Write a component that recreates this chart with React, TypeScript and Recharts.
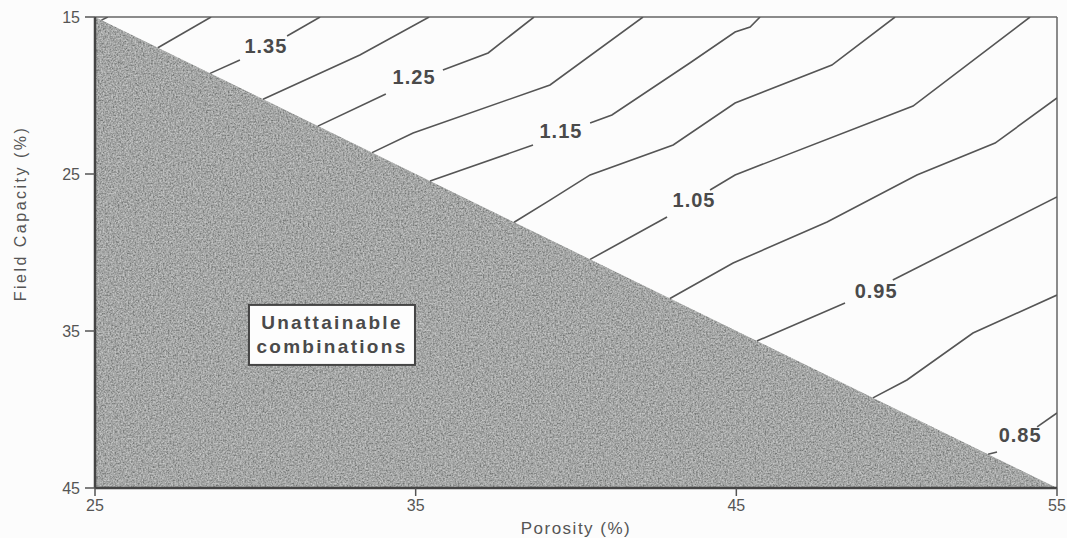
import {
  ComposedChart,
  Area,
  Line,
  Scatter,
  XAxis,
  YAxis,
  ReferenceLine,
  Label,
} from "recharts";

// axis ticks
const porosityTicks = [25, 35, 45, 55];
const fieldCapacityTicks = [15, 25, 35, 45];

// triangle of impossible porosity / field capacity pairs
const unattainable = [
  { x: 25, y: 15 },
  { x: 55, y: 45 },
];

// contour lines, [porosity, field capacity]; labelled ones are split around their label
type Pt = [number, number];
const c145: Pt[] = [[25.2, 15.2], [25.4, 15]];
const c140: Pt[] = [[26.96, 16.96], [28.62, 15]];
const c135Low: Pt[] = [[28.59, 18.59], [29.52, 17.74]];
const c135High: Pt[] = [[30.99, 16.21], [32.02, 15]];
const c130: Pt[] = [[30.24, 20.24], [33.26, 17.42], [35.42, 15]];
const c125Low: Pt[] = [[31.95, 21.95], [34.07, 19.9]];
const c125High: Pt[] = [[35.85, 18.38], [37.26, 17.29], [38.69, 15]];
const c120: Pt[] = [[33.64, 23.64], [34.92, 22.39], [39.19, 19.33], [42.09, 15]];
const c115Low: Pt[] = [[35.45, 25.45], [38.66, 23.15]];
const c115High: Pt[] = [[40.44, 21.75], [41.12, 21.24], [43.55, 17.93], [44.96, 15.96], [45.43, 15.64], [45.74, 15]];
const c110: Pt[] = [[38.07, 28.07], [39.19, 26.66], [40.44, 25.06], [43.03, 23.15], [44.96, 20.48], [47.98, 18.06], [49.95, 15]];
const c105Low: Pt[] = [[40.44, 30.44], [42.84, 27.74]];
const c105High: Pt[] = [[44.18, 26.02], [44.96, 25.06], [50.51, 20.67], [54.16, 15]];
const c100: Pt[] = [[42.93, 32.93], [44.9, 30.67], [47.83, 28.06], [50.63, 25.06], [53.07, 23.03], [55, 20.16]];
const c095Low: Pt[] = [[45.64, 35.64], [48.39, 33.22]];
const c095High: Pt[] = [[49.88, 31.75], [55, 26.46]];
const c090: Pt[] = [[49.26, 39.26], [50.32, 38.12], [52.38, 35.13], [55, 32.71]];
const c085Low: Pt[] = [[52.85, 42.85], [53.13, 42.71]];
const c085High: Pt[] = [[54.38, 41.11], [55, 40.22]];

const contours = [
  c145, c140, c135Low, c135High, c130, c125Low, c125High, c120, c115Low, c115High,
  c110, c105Low, c105High, c100, c095Low, c095High, c090, c085Low, c085High,
];

// contour value labels
const contourLabels = [
  { x: 30.33, y: 16.85, text: "1.35" },
  { x: 34.95, y: 18.82, text: "1.25" },
  { x: 39.53, y: 22.26, text: "1.15" },
  { x: 43.68, y: 26.66, text: "1.05" },
  { x: 49.36, y: 32.45, text: "0.95" },
  { x: 53.85, y: 41.62, text: "0.85" },
];

const boxNote = [{ x: 32.39, y: 35.25, lines: ["Unattainable", "combinations"] }];

const FONT = '"Liberation Sans", Arial, sans-serif';
const INK = "#4a4a4a";

const ContourLabel = (props: any) => {
  const { cx, cy, payload } = props;
  return (
    <text
      x={cx}
      y={cy}
      textAnchor="middle"
      dominantBaseline="central"
      fontFamily={FONT}
      fontWeight="bold"
      fontSize={20}
      letterSpacing={1}
      fill={INK}
    >
      {payload.text}
    </text>
  );
};

const NoteBox = (props: any) => {
  const { cx, cy, payload } = props;
  const w = 166;
  const h = 60;
  return (
    <g>
      <rect x={cx - w / 2} y={cy - h / 2} width={w} height={h} fill="#fdfdfd" stroke="#444" strokeWidth={2} />
      {payload.lines.map((t: string, i: number) => (
        <text
          key={t}
          x={cx}
          y={cy - 12 + i * 24}
          textAnchor="middle"
          dominantBaseline="central"
          fontFamily={FONT}
          fontWeight="bold"
          fontSize={19}
          letterSpacing={2.3}
          fill={INK}
        >
          {t}
        </text>
      ))}
    </g>
  );
};

const YTitle = (props: any) => {
  const { x, y, height } = props.viewBox;
  const cx = x + 20;
  const cy = y + height / 2 - 39;
  return (
    <text
      x={cx}
      y={cy}
      transform={`rotate(-90 ${cx} ${cy})`}
      textAnchor="middle"
      dominantBaseline="central"
      fontFamily={FONT}
      fontSize={16}
      letterSpacing={2.5}
      fill="#555"
    >
      Field Capacity (%)
    </text>
  );
};

const XTitle = (props: any) => {
  const { x, y, width } = props.viewBox;
  return (
    <text
      x={x + width / 2}
      y={y + 40}
      textAnchor="middle"
      dominantBaseline="central"
      fontFamily={FONT}
      fontSize={17}
      letterSpacing={1.5}
      fill="#555"
    >
      Porosity (%)
    </text>
  );
};

const tickStyle = { fontFamily: FONT, fontSize: 16, fill: "#555" };

export default function App() {
  return (
    <div style={{ position: "absolute", left: 0, top: 0, background: "#fcfcfc" }}>
      <ComposedChart width={1067} height={538} margin={{ top: 17, right: 10, bottom: 0, left: 0 }}>
        <defs>
          {/* speckled print texture for the shaded region */}
          <filter id="grain" x="0" y="0" width="100%" height="100%">
            <feTurbulence type="fractalNoise" baseFrequency="0.6" numOctaves="3" seed="4" result="noise" />
            <feColorMatrix
              in="noise"
              type="matrix"
              values="1.6 0 0 0 -0.3  1.6 0 0 0 -0.3  1.6 0 0 0 -0.3  0 0 0 0 0.4"
              result="speck"
            />
            <feComposite in="speck" in2="SourceGraphic" operator="in" result="clipped" />
            <feMerge>
              <feMergeNode in="SourceGraphic" />
              <feMergeNode in="clipped" />
            </feMerge>
          </filter>
        </defs>
        <XAxis
          type="number"
          dataKey="x"
          domain={[25, 55]}
          ticks={porosityTicks}
          height={50}
          tick={tickStyle}
          tickSize={8}
          tickMargin={4}
          axisLine={{ stroke: "#444", strokeWidth: 2.5 }}
          tickLine={{ stroke: "#555", strokeWidth: 1.5 }}
          allowDataOverflow
        >
          <Label content={XTitle} />
        </XAxis>
        <YAxis
          type="number"
          dataKey="y"
          domain={[15, 45]}
          reversed
          ticks={fieldCapacityTicks}
          width={95}
          tick={tickStyle}
          tickSize={10}
          tickMargin={5}
          axisLine={{ stroke: "#444", strokeWidth: 2.5 }}
          tickLine={{ stroke: "#555", strokeWidth: 1.5 }}
          allowDataOverflow
        >
          <Label content={YTitle} />
        </YAxis>
        <Area
          data={unattainable}
          dataKey="y"
          type="linear"
          baseValue={45}
          fill="#939694"
          fillOpacity={1}
          stroke="none"
          filter="url(#grain)"
          isAnimationActive={false}
        />
        <ReferenceLine y={15} stroke="#666" strokeWidth={1.5} />
        <ReferenceLine x={55} stroke="#666" strokeWidth={1.5} />
        {contours.map((seg, i) => (
          <Line
            key={i}
            data={seg.map(([x, y]) => ({ x, y }))}
            dataKey="y"
            type="linear"
            stroke="#555"
            strokeWidth={1.6}
            dot={false}
            activeDot={false}
            isAnimationActive={false}
          />
        ))}
        <Scatter data={contourLabels} dataKey="y" shape={ContourLabel} isAnimationActive={false} />
        <Scatter data={boxNote} dataKey="y" shape={NoteBox} isAnimationActive={false} />
      </ComposedChart>
    </div>
  );
}
